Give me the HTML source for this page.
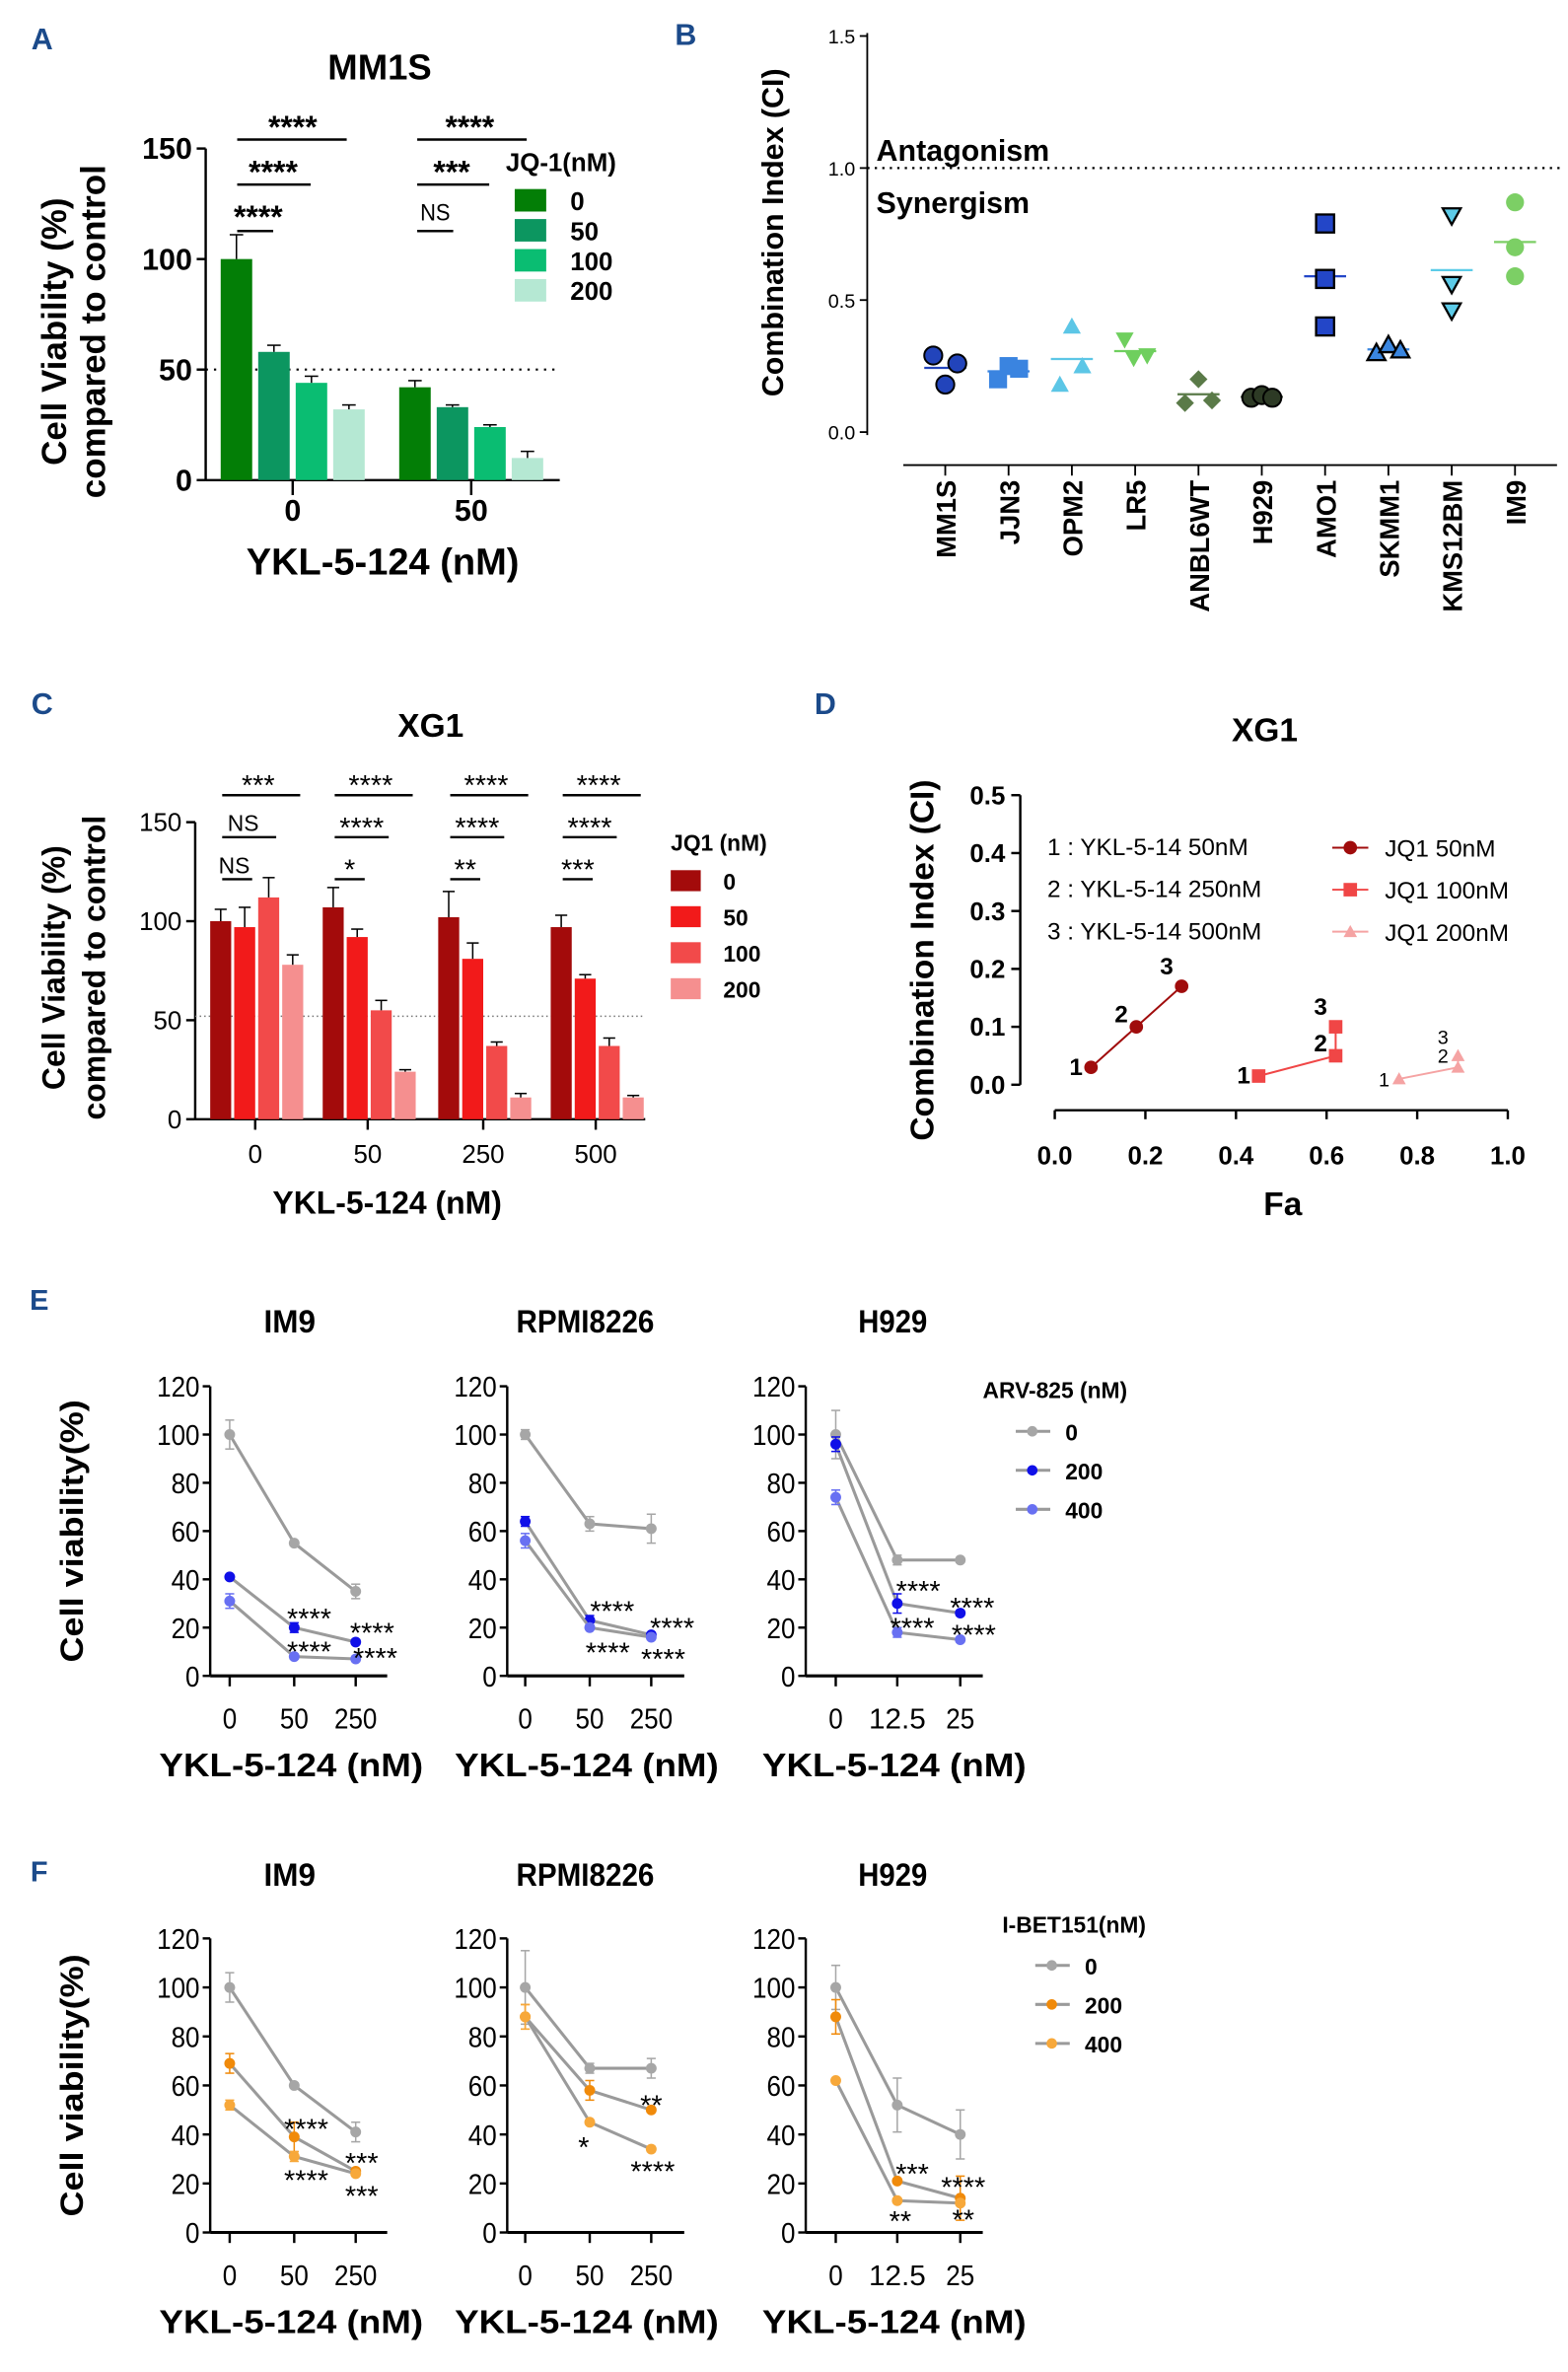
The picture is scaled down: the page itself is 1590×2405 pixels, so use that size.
<!DOCTYPE html>
<html><head><meta charset="utf-8"><style>
html,body{margin:0;padding:0;background:#fff}
svg{display:block;font-family:"Liberation Sans",Arial,sans-serif}
</style></head><body>
<svg id="fig" width="1590" height="2405" viewBox="0 0 1045 1581" xmlns="http://www.w3.org/2000/svg"></svg>
<script>
// ---------- data ----------
const A_doses=['0','50'];
const A_jq=['0','50','100','200'];
const A_vals=[[100,58,44,32],[42,33,24,10]];
const A_err=[[11,3,3,2],[3,1,1,3]];
const A_ticks=[0,50,100,150];

const B_lines=['MM1S','JJN3','OPM2','LR5','ANBL6WT','H929','AMO1','SKMM1','KMS12BM','IM9'];
const B_vals=[[0.29,0.18,0.26],[0.20,0.25,0.24],[0.18,0.40,0.25],[0.35,0.28,0.29],[0.11,0.20,0.12],[0.13,0.14,0.13],[0.79,0.58,0.40],[0.30,0.33,0.31],[0.82,0.56,0.46],[0.87,0.70,0.59]];
const B_ticks=[0,0.5,1.0,1.5];

const C_doses=['0','50','250','500'];
const C_jq=['0','50','100','200'];
const C_vals=[[100,97,112,78],[107,92,55,24],[102,81,37,11],[97,71,37,11]];
const C_err=[[6,10,10,5],[10,4,5,1],[13,8,2,2],[6,2,4,1]];
const C_ticks=[0,50,100,150];

const D_fa=[[0.08,0.18,0.28],[0.45,0.62,0.62],[0.76,0.89,0.89]];
const D_ci=[[0.03,0.10,0.17],[0.015,0.05,0.10],[0.01,0.03,0.05]];
const D_series=['JQ1 50nM','JQ1 100nM','JQ1 200nM'];
const D_yticks=[0,0.1,0.2,0.3,0.4,0.5];
const D_xticks=[0,0.2,0.4,0.6,0.8,1.0];

const E_titles=['IM9','RPMI8226','H929'];
const E_xlabels=[['0','50','250'],['0','50','250'],['0','12.5','25']];
const E_vals=[
 [[100,55,35],[41,20,14],[31,8,7]],
 [[100,63,61],[64,23,17],[56,20,16]],
 [[100,48,48],[96,30,26],[74,18,15]]];
const E_err=[
 [[6,1,3],[1,2,1],[3,1,1]],
 [[2,3,6],[2,2,1],[3,1,1]],
 [[10,2,1],[3,4,1],[3,2,1]]];
const F_vals=[
 [[100,60,41],[69,39,25],[52,31,24]],
 [[100,67,67],[88,58,50],[88,45,34]],
 [[100,52,40],[88,21,14],[62,13,12]]];
const F_err=[
 [[6,1,4],[4,6,1],[2,2,1]],
 [[15,2,4],[5,4,1],[5,1,1]],
 [[9,11,10],[7,1,9],[1,1,1]]];
const EF_ticks=[0,20,40,60,80,100,120];
// significance annotations: [panel, x, value-level, text]
const E_stars=[[0,206,26.5,'****'],[0,206,12.8,'****'],[0,248,20.5,'****'],[0,250,10.1,'****'],
 [1,408,29.6,'****'],[1,405,12.5,'****'],[1,448,22.6,'****'],[1,442,9.7,'****'],
 [2,612,38,'****'],[2,608,22.6,'****'],[2,648,31,'****'],[2,649,19.8,'****']];
const F_stars=[[0,204,45,'****'],[0,204,24,'****'],[0,241,31,'***'],[0,241,17.6,'***'],
 [1,434,54.7,'**'],[1,389,37.6,'*'],[1,435,27.6,'****'],
 [2,608,26.7,'***'],[2,600,7.3,'**'],[2,642,21.3,'****'],[2,642,8,'**']];

// ---------- helpers ----------
const NS='http://www.w3.org/2000/svg';
const svg=document.getElementById('fig');
function el(tag,a,nm,inter){
  const e=document.createElementNS(NS,tag);
  for(const k in a)e.setAttribute(k,a[k]);
  
  
  svg.appendChild(e);return e;
}
function T(x,y,s,size,nm,o){
  o=o||{};
  const a={x:x,y:y,'font-size':size,'text-anchor':o.anchor||'middle','font-weight':o.w||'bold',fill:o.fill||'#000'};
  if(o.rot)a.transform='rotate('+o.rot+' '+x+' '+y+')';
  if(o.len){a.textLength=o.len;a.lengthAdjust='spacingAndGlyphs';}
  const t=el('text',a,nm);t.textContent=s;return t;
}
function L(x1,y1,x2,y2,nm,o){
  o=o||{};
  return el('line',{x1:x1,y1:y1,x2:x2,y2:y2,stroke:o.c||'#000','stroke-width':o.w||1.6,'stroke-dasharray':o.d||'none'},nm);
}
function marker(shape,x,y,r,fill,stroke,nm){
  let e;
  if(shape==='circle')e=el('circle',{cx:x,cy:y,r:r,fill:fill,stroke:stroke,'stroke-width':1.3},nm);
  else if(shape==='square')e=el('rect',{x:x-r,y:y-r,width:2*r,height:2*r,fill:fill,stroke:stroke,'stroke-width':1.5},nm);
  else if(shape==='up')e=el('polygon',{points:(x)+','+(y-r)+' '+(x-r)+','+(y+r*0.8)+' '+(x+r)+','+(y+r*0.8),fill:fill,stroke:stroke,'stroke-width':1.5},nm);
  else if(shape==='down')e=el('polygon',{points:(x)+','+(y+r)+' '+(x-r)+','+(y-r*0.8)+' '+(x+r)+','+(y-r*0.8),fill:fill,stroke:stroke,'stroke-width':1.5},nm);
  else if(shape==='diamond')e=el('polygon',{points:x+','+(y-r)+' '+(x+r)+','+y+' '+x+','+(y+r)+' '+(x-r)+','+y,fill:fill,stroke:stroke,'stroke-width':1},nm);
  return e;
}
const PL='#1b4a8a';

// ---------- Panel A ----------
T(28,33,'A',20,'panel-label-a',{fill:PL});
T(253,53,'MM1S',24,'title-mm1s');
const yA=v=>320-v*(221/150);
const axA=137;
L(axA,yA(0),axA,yA(150),'a-y-axis');
L(axA,yA(0),373,yA(0),'a-x-axis');
A_ticks.forEach(t=>{L(axA-6,yA(t),axA,yA(t),'a-y-tick');T(axA-9,yA(t)+7,String(t),20,'a-y-tick-label',{anchor:'end'});});
L(axA,yA(50),373,yA(50),'a-50-reference-line',{d:'1.5 4',w:1.4});
const A_col=['#037e06','#0c9660','#0abd72','#b5e8d3'];
const A_center=[195,314];
A_doses.forEach((d,g)=>{
  L(A_center[g],yA(0),A_center[g],yA(0)+10,'a-x-tick');
  T(A_center[g],347,d,20,'a-x-tick-label');
  A_vals[g].forEach((v,i)=>{
    const x=A_center[g]-48+i*25;
    el('rect',{x:x,y:yA(v),width:21,height:yA(0)-yA(v),fill:A_col[i]},'a-bar');
    const top=yA(v+A_err[g][i]);
    L(x+10.5,yA(v),x+10.5,top,'a-error-bar',{w:1});
    L(x+6,top,x+15,top,'a-error-cap',{w:1});
  });
});
T(255,383,'YKL-5-124 (nM)',25,'a-x-axis-title');
T(44,221,'Cell Viability (%)',23,'a-y-axis-title-line1',{rot:-90});
T(70,221,'compared to control',23,'a-y-axis-title-line2',{rot:-90});
T(337,114,'JQ-1(nM)',17,'a-legend-title',{anchor:'start'});
A_jq.forEach((j,i)=>{
  el('rect',{x:343,y:126+i*20,width:21,height:15,fill:A_col[i]},'a-legend-swatch');
  T(380,140+i*20,j,17,'a-legend-label',{anchor:'start'});
});
// significance A
L(158,93,231,93,'a-sig-line');T(195,92,'****',21,'a-sig-stars');
L(158,123,207,123,'a-sig-line');T(182,122,'****',21,'a-sig-stars');
L(158,154,182,154,'a-sig-line');T(172,152,'****',21,'a-sig-stars');
L(278,93,351,93,'a-sig-line');T(313,92,'****',21,'a-sig-stars');
L(278,123,326,123,'a-sig-line');T(301,122,'***',21,'a-sig-stars');
L(278,154,302,154,'a-sig-line');T(290,147,'NS',16,'a-sig-ns',{w:'normal',len:20});

// ---------- Panel B ----------
T(457,30,'B',20,'panel-label-b',{fill:PL});
const yB=v=>288-v*176;
const axB=578;
L(axB,yB(0)+2,axB,yB(1.5)-2,'b-y-axis',{w:1.2});
B_ticks.forEach(t=>{L(axB-5,yB(t),axB,yB(t),'b-y-tick',{w:1.2});T(axB-8,yB(t)+5,t.toFixed(1),13,'b-y-tick-label',{anchor:'end',w:'normal'});});
L(axB,yB(1),1040,yB(1),'b-ci-1-reference-line',{d:'1.5 3.5',w:1.4});
T(584,107,'Antagonism',20,'b-antagonism-label',{anchor:'start'});
T(584,142,'Synergism',20,'b-synergism-label',{anchor:'start'});
T(522,155,'Combination Index (CI)',20,'b-y-axis-title',{rot:-90});
L(916/1.5215,310,1579/1.5215,310,'b-x-axis',{w:1.2});
const B_shape=['circle','square','up','down','diamond','circle','square','up','down','circle'];
const B_fill=['#2244bb','#3a84e0','#5cc6e6','#6fcf5e','#5a7a48','#2d3a25','#2346c8','#3a86e0','#5ccbe8','#7ccf65'];
const B_stroke=['#000','none','none','none','none','#000','#000','#000','#000','none'];
const B_off=[[-8,0,8],[-7,0,7],[-8,0,7],[-7,-1,8],[-9,0,9],[-7,0,7],[0,0,0],[-8,0,8],[0,0,0],[0,0,0]];
const xB=i=>630+i*42.2;
B_lines.forEach((n,i)=>{
  const x=xB(i);
  L(x,310,x,317,'b-x-tick',{w:1.2});
  T(x+7,320,n,18,'b-x-label-'+n.toLowerCase(),{anchor:'end',rot:-90});
  const vs=B_vals[i];
  const mean=vs.reduce((a,b)=>a+b,0)/vs.length;
  L(x-14,yB(mean),x+14,yB(mean),'b-mean-line',{c:B_fill[i]==='#2346c8'?'#2346c8':B_fill[i],w:1.5});
  vs.forEach((v,k)=>marker(B_shape[i],x+B_off[i][k],yB(v),6,B_fill[i],B_stroke[i],'b-point-'+n.toLowerCase()));
});

// ---------- Panel C ----------
T(28,476,'C',20,'panel-label-c',{fill:PL});
T(287,491,'XG1',22,'title-c-xg1');
const yC=v=>746-v*(198/150);
const axC=130;
L(axC,yC(0),axC,yC(150),'c-y-axis');
L(axC,yC(0),430,yC(0),'c-x-axis');
C_ticks.forEach(t=>{L(axC-6,yC(t),axC,yC(t),'c-y-tick');T(axC-9,yC(t)+6,String(t),17,'c-y-tick-label',{anchor:'end',w:'normal'});});
L(axC,yC(52),430,yC(52),'c-50-reference-line',{d:'1 2',w:1,c:'#777'});
const C_col=['#a30b0b','#f21a1a','#f24a4a','#f58f8f'];
const C_center=[170,245,322,397];
C_doses.forEach((d,g)=>{
  L(C_center[g],yC(0),C_center[g],yC(0)+7,'c-x-tick');
  T(C_center[g],775,d,17,'c-x-tick-label',{w:'normal'});
  C_vals[g].forEach((v,i)=>{
    const x=C_center[g]-30+i*16;
    el('rect',{x:x,y:yC(v),width:14,height:yC(0)-yC(v),fill:C_col[i]},'c-bar');
    const top=yC(v+C_err[g][i]);
    L(x+7,yC(v),x+7,top,'c-error-bar',{w:1});
    L(x+3,top,x+11,top,'c-error-cap',{w:1});
  });
  const s1=['***','****','****','****'][g],s2=['NS','****','****','****'][g],s3=['NS','*','**','***'][g];
  const c=C_center[g];
  L(c-22,530,c+30,530,'c-sig-line');T(c+2,530,s1,19,'c-sig-stars',{w:'normal'});
  L(c-22,558,c+14,558,'c-sig-line');
  if(s2==='NS')T(c-8,554,s2,15,'c-sig-ns',{w:'normal'});else T(c-4,558,s2,19,'c-sig-stars',{w:'normal'});
  L(c-22,586,c-2,586,'c-sig-line');
  if(s3==='NS')T(c-14,582,s3,15,'c-sig-ns',{w:'normal'});else T(c-12,586,s3,19,'c-sig-stars',{w:'normal'});
});
T(258,809,'YKL-5-124 (nM)',21,'c-x-axis-title');
T(43,645,'Cell Viability (%)',21,'c-y-axis-title-line1',{rot:-90});
T(70,645,'compared to control',21,'c-y-axis-title-line2',{rot:-90});
T(447,567,'JQ1 (nM)',15,'c-legend-title',{anchor:'start'});
C_jq.forEach((j,i)=>{
  el('rect',{x:447,y:580+i*24,width:20,height:14,fill:C_col[i]},'c-legend-swatch');
  T(482,593+i*24,j,15,'c-legend-label',{anchor:'start'});
});

// ---------- Panel D ----------
T(550,476,'D',20,'panel-label-d',{fill:PL});
T(843,494,'XG1',22,'title-d-xg1');
const yD=v=>723-v*386;
const xD=v=>703+v*302;
L(680,yD(0),680,yD(0.5),'d-y-axis');
D_yticks.forEach(t=>{L(674,yD(t),680,yD(t),'d-y-tick');T(670,yD(t)+6,t.toFixed(1),17,'d-y-tick-label',{anchor:'end'});});
L(xD(0),740,xD(1),740,'d-x-axis');
D_xticks.forEach(t=>{L(xD(t),740,xD(t),746,'d-x-tick');T(xD(t),776,t.toFixed(1),17,'d-x-tick-label');});
T(855,810,'Fa',22,'d-x-axis-title');
T(622,640,'Combination Index (CI)',22,'d-y-axis-title',{rot:-90});
['1 : YKL-5-14 50nM','2 : YKL-5-14 250nM','3 : YKL-5-14 500nM'].forEach((s,i)=>T(698,570+i*28,s,16,'d-dose-key',{anchor:'start',w:'normal'}));
const D_col=['#a00c0c','#f04646','#f5a3a3'];
const D_shape=['circle','square','up'];
D_series.forEach((n,s)=>{
  L(888,565+s*28,912,565+s*28,'d-legend-line',{c:D_col[s],w:1.3});
  marker(D_shape[s],900,565+s*28,4.5,D_col[s],'none','d-legend-marker');
  T(923,571+s*28,n,16,'d-legend-label',{anchor:'start',w:'normal'});
  const pts=D_fa[s].map((f,k)=>xD(f)+','+yD(D_ci[s][k])).join(' ');
  el('polyline',{points:pts,fill:'none',stroke:D_col[s],'stroke-width':1.3},'d-series-line');
  D_fa[s].forEach((f,k)=>{
    marker(D_shape[s],xD(f),yD(D_ci[s][k]),4.5,D_col[s],'none','d-point');
    const sz=s===2?13:16;
    T(xD(f)-10,yD(D_ci[s][k])-(k===2?8:-5)+(k===1?-8:0),String(k+1),sz,'d-point-label',{w:s===2?'normal':'bold'});
  });
});

// ---------- Panels E & F ----------
const EF_axX=[140,338,537];
const EF_ptX=[[153,196,237],[350,393,434],[557,598,640]];
function lineGroup(prefix,top,bot,vals,errs,cols,stars,ttl,leg,legY,legLabels){
  const y=v=>bot-v*(bot-top)/120;
  E_titles.forEach((title,p)=>{
    const ax=EF_axX[p];
    T(EF_ptX[p][1]-3,ttl,title,21,prefix+'-title-'+title.toLowerCase(),{len:title.length*11.5});
    L(ax,y(0),ax,y(120),prefix+'-y-axis');
    L(ax,y(0),ax+118,y(0),prefix+'-x-axis',{w:2});
    EF_ticks.forEach(t=>{L(ax-5,y(t),ax,y(t),prefix+'-y-tick');T(ax-7,y(t)+7,String(t),19,prefix+'-y-tick-label',{anchor:'end',w:'normal',len:String(t).length*9.5});});
    EF_ptX[p].forEach((x,k)=>{L(x,y(0),x,y(0)+7,prefix+'-x-tick');T(x,y(0)+35,E_xlabels[p][k],19,prefix+'-x-tick-label',{w:'normal',len:E_xlabels[p][k].length*9.5});});
    T(EF_ptX[p][1]-2,y(0)+67,'YKL-5-124 (nM)',22,prefix+'-x-axis-title',{len:176});
    vals[p].forEach((s,si)=>{
      const pts=s.map((v,k)=>EF_ptX[p][k]+','+y(v)).join(' ');
      el('polyline',{points:pts,fill:'none',stroke:'#9a9a9a','stroke-width':2},prefix+'-series-line');
      s.forEach((v,k)=>{
        const x=EF_ptX[p][k],e=errs[p][si][k];
        L(x,y(v-e),x,y(v+e),prefix+'-error-bar',{c:cols[si],w:1});
        L(x-3,y(v+e),x+3,y(v+e),prefix+'-error-cap',{c:cols[si],w:1});
        L(x-3,y(v-e),x+3,y(v-e),prefix+'-error-cap',{c:cols[si],w:1});
        el('circle',{cx:x,cy:y(v),r:3.6,fill:cols[si]},prefix+'-point');
      });
    });
  });
  stars.forEach(s=>T(s[1],y(s[2])+11,s[3],19,prefix+'-sig-stars',{w:'normal'}));
  T(55,(top+bot)/2,'Cell viability(%)',21,prefix+'-y-axis-title',{rot:-90,len:175});
  T(leg,legY,legLabels[0],15,prefix+'-legend-title',{anchor:'start'});
  legLabels.slice(1).forEach((l,i)=>{
    const yy=legY+22+i*26;
    L(leg+22,yy,leg+45,yy,prefix+'-legend-line',{c:'#9a9a9a',w:2});
    el('circle',{cx:leg+33,cy:yy,r:3.5,fill:cols[i]},prefix+'-legend-marker');
    T(leg+55,yy+6,l,15,prefix+'-legend-label',{anchor:'start'});
  });
}
T(26,873,'E',19,'panel-label-e',{fill:PL});
lineGroup('e',924,1117,E_vals,E_err,['#a6a6a6','#1010e8','#6870f2'],E_stars,888,655,932,['ARV-825 (nM)','0','200','400']);
T(26,1254,'F',19,'panel-label-f',{fill:PL});
lineGroup('f',1292,1488,F_vals,F_err,['#a6a6a6','#f08a0a','#f7a83a'],F_stars,1257,668,1288,['I-BET151(nM)','0','200','400']);
</script>
</body></html>
